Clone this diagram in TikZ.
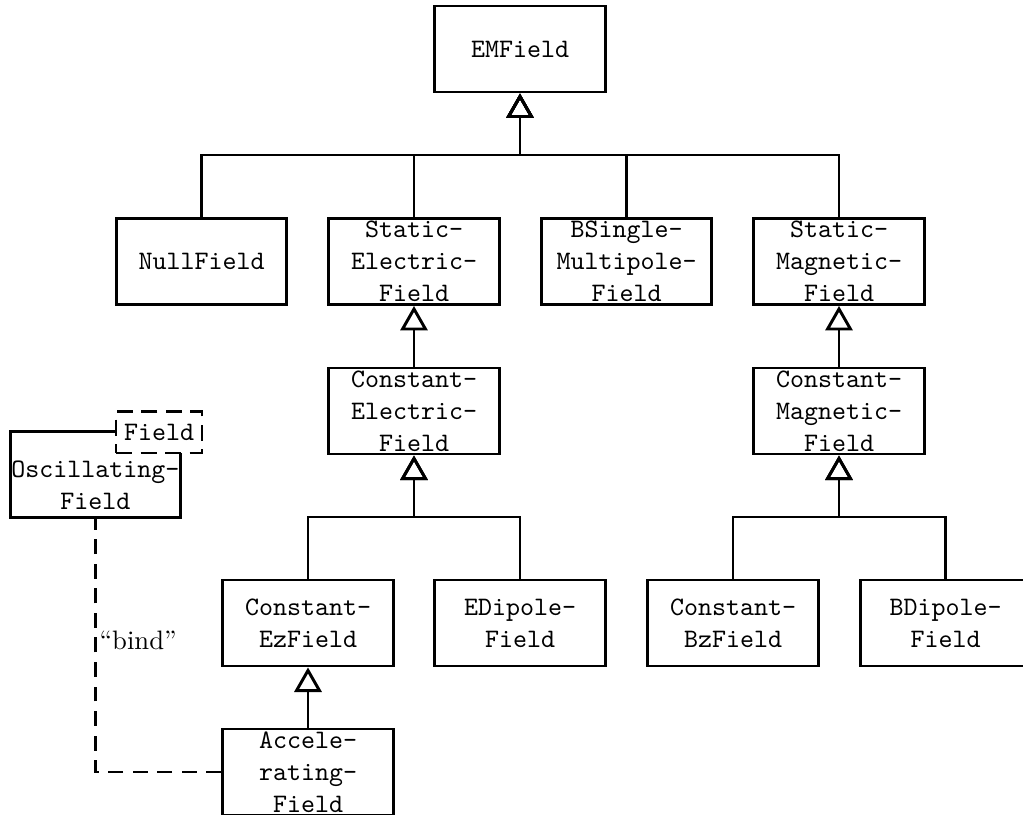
\documentclass[tikz,border=0pt]{standalone}
\usetikzlibrary{arrows.meta}
\begin{document}
\begin{tikzpicture}[x=0.375pt,y=-0.375pt, line width=1.1pt,
  cls/.style={draw, line width=1.1pt, minimum width=64pt, minimum height=32.25pt, inner sep=0pt},
  txt/.style={font=\ttfamily, align=center, inner sep=0pt},
  inh/.style={-{Triangle[open, length=9.2pt, width=10.2pt]}},
  tmpl/.style={draw, line width=1.1pt, dash pattern=on 6pt off 3.2pt, minimum width=32.25pt, minimum height=15.4pt, inner sep=0pt, fill=white, font=\ttfamily},
  bindline/.style={line width=1.1pt, dash pattern=on 5.6pt off 3.6pt}]
\useasboundingbox (0,0) rectangle (1023,815);
\begin{scope}
\clip (0,0) rectangle (1023,815);
% classes
\node[cls, label={[txt]center:EMField}] (em) at (520,49) {};
\node[cls, label={[txt]center:NullField}] (nf) at (201.5,261.5) {};
\node[cls, label={[txt]center:Static-\\Electric-\\Field}] (sef) at (414,261.5) {};
\node[cls, label={[txt]center:BSingle-\\Multipole-\\Field}] (bsm) at (626.5,261.5) {};
\node[cls, label={[txt]center:Static-\\Magnetic-\\Field}] (smf) at (839,261.5) {};
\node[cls, label={[txt]center:Constant-\\Electric-\\Field}] (cef) at (414,411) {};
\node[cls, label={[txt]center:Constant-\\Magnetic-\\Field}] (cmf) at (839,411) {};
\node[cls, label={[txt]center:Constant-\\EzField}] (cez) at (308,623) {};
\node[cls, label={[txt]center:EDipole-\\Field}] (edp) at (520,623) {};
\node[cls, label={[txt]center:Constant-\\BzField}] (cbz) at (733,623) {};
\node[cls, label={[txt]center:BDipole-\\Field}] (bdp) at (945.5,623) {};
\node[cls, label={[txt]center:Accele-\\rating-\\Field}] (acc) at (308,772) {};
% template class with its parameter box
\node[cls, label={[txt, yshift=-4.2pt]center:Oscillating-\\Field}] (osc) at (95.5,474.5) {};
\node[tmpl] (par) at (159,432.5) {Field};
% junctions of the inheritance trees
\coordinate (j0) at (520,155);
\coordinate (j1) at (414,517);
\coordinate (j2) at (839,517);
% generalisations
\foreach \c in {nf,sef,bsm,smf} \draw[inh] (\c.north) |- (j0) -- (em.south);
\draw[inh] (cef.north) -- (sef.south);
\draw[inh] (cmf.north) -- (smf.south);
\foreach \c in {cez,edp} \draw[inh] (\c.north) |- (j1) -- (cef.south);
\foreach \c in {cbz,bdp} \draw[inh] (\c.north) |- (j2) -- (cmf.south);
\draw[inh] (acc.north) -- (cez.south);
% binding of the template
\draw[bindline] (acc.west) -| (osc.south)
  node[pos=0.76, right, inner sep=1pt, font=\rmfamily] (bind) {``bind''};
\end{scope}
\end{tikzpicture}
\end{document}
